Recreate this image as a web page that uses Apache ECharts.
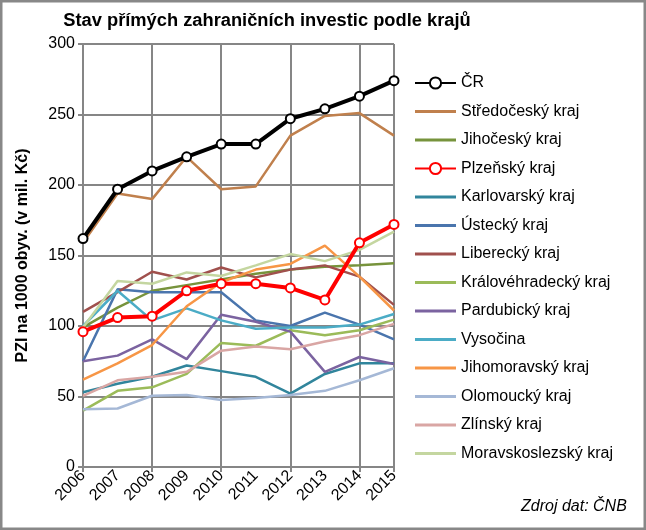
<!DOCTYPE html>
<html>
<head>
<meta charset="utf-8">
<script src="https://cdn.jsdelivr.net/npm/echarts@6/dist/echarts.min.js"></script>
<style>
html,body{margin:0;padding:0;background:#fff;}
#c{width:646px;height:530px;}
</style>
</head>
<body>
<div id="c"></div>
<script>
const years = ['2006','2007','2008','2009','2010','2011','2012','2013','2014','2015'];
const yTicks = [0, 50, 100, 150, 200, 250, 300];

const cr              = [162, 197, 210, 220, 229, 229, 247, 254, 263, 274];
const stredocesky     = [159, 194, 190, 220, 197, 199, 235, 249, 251, 235];
const jihocesky       = [99, 113, 125, 129, 133, 137, 140, 142, 143, 144.5];
const plzensky        = [96, 106, 107, 125, 130, 130, 127, 118.5, 159, 172];
const karlovarsky     = [53, 59, 64, 72, 68, 64, 52, 66, 73.5, 73.5];
const ustecky         = [75, 126, 124, 124, 124, 104, 100, 109.5, 101, 90.5];
const liberecky       = [110, 124, 138.5, 133, 141.5, 134.5, 140, 143, 135, 115];
const kralovehradecky = [40, 54, 56.5, 66, 88, 86, 97, 93.5, 97, 104.5];
const pardubicky      = [75, 79, 90.5, 76.5, 108, 103, 96, 67.5, 78, 73];
const vysocina        = [100, 125, 104, 112.5, 104, 98, 99, 99, 101, 108.5];
const jihomoravsky    = [62, 73.5, 86.5, 114, 131, 140, 144, 157, 135, 111];
const olomoucky       = [41, 41.5, 50.5, 51, 47.5, 49, 51, 54, 61.5, 70];
const zlinsky         = [50.5, 61.5, 64, 67.5, 82.5, 85.5, 83.5, 89, 93.5, 101.5];
const moravskoslezsky = [99, 132, 130, 138, 135.5, 143, 151, 146, 154, 167];

const FONT = '"Liberation Sans", Arial, sans-serif';

function plain(name, data, color) {
  return {
    name, type: 'line', data, symbol: 'none', z: 2,
    lineStyle: { color, width: 2.5 }, itemStyle: { color }
  };
}
function marked(name, data, color, z) {
  return {
    name, type: 'line', data, symbol: 'circle', symbolSize: 9, z,
    lineStyle: { color, width: 4 },
    itemStyle: { color: '#fff', borderColor: color, borderWidth: 2 }
  };
}

const series = [
  marked('ČR', cr, '#000000', 10),
  plain('Středočeský kraj', stredocesky, '#C0804D'),
  plain('Jihočeský kraj', jihocesky, '#77933C'),
  marked('Plzeňský kraj', plzensky, '#FF0000', 9),
  plain('Karlovarský kraj', karlovarsky, '#31859C'),
  plain('Ústecký kraj', ustecky, '#4A75AD'),
  plain('Liberecký kraj', liberecky, '#A0504D'),
  plain('Královéhradecký kraj', kralovehradecky, '#9BBB59'),
  plain('Pardubický kraj', pardubicky, '#7B63A0'),
  plain('Vysočina', vysocina, '#4BACC6'),
  plain('Jihomoravský kraj', jihomoravsky, '#F79646'),
  plain('Olomoucký kraj', olomoucky, '#A5B8D6'),
  plain('Zlínský kraj', zlinsky, '#D9A6A4'),
  plain('Moravskoslezský kraj', moravskoslezsky, '#C4D6A0')
];

const legendData = series.map(s => s.symbol === 'none'
  ? { name: s.name, icon: 'path://M0,0H40V3H0Z' }
  : { name: s.name });

const chart = echarts.init(document.getElementById('c'), null, { renderer: 'canvas' });
chart.setOption({
  animation: false,
  backgroundColor: '#fff',
  textStyle: { fontFamily: FONT },
  title: {
    text: 'Stav přímých zahraničních investic podle krajů',
    left: 262, top: 7, textAlign: 'center',
    textStyle: { fontFamily: FONT, fontSize: 18.3, fontWeight: 'bold', color: '#000' }
  },
  grid: { left: 83, right: 252, top: 44, bottom: 63, containLabel: false },
  legend: {
    orient: 'vertical', left: 409, top: 70,
    itemWidth: 41, itemHeight: 14, itemGap: 12.5,
    textStyle: { fontFamily: FONT, fontSize: 16, color: '#000' },
    data: legendData
  },
  xAxis: {
    type: 'category', data: years, boundaryGap: false,
    axisLine: { lineStyle: { color: '#868686', width: 2 } },
    axisTick: { interval: 1, length: 5, lineStyle: { color: '#868686', width: 2 } },
    splitLine: { show: true, interval: 1, lineStyle: { color: '#868686', width: 2 } },
    axisLabel: { interval: 0, rotate: 45, margin: 6, fontFamily: FONT, fontSize: 16, color: '#000' }
  },
  yAxis: {
    type: 'value', min: yTicks[0], max: yTicks[yTicks.length - 1], interval: 50,
    name: 'PZI na 1000 obyv. (v mil. Kč)', nameLocation: 'middle', nameGap: 52,
    nameTextStyle: { fontFamily: FONT, fontSize: 16, fontWeight: 'bold', color: '#000' },
    axisLine: { show: true, lineStyle: { color: '#868686', width: 2 } },
    axisTick: { show: true, length: 5, lineStyle: { color: '#868686', width: 2 } },
    splitLine: { show: true, lineStyle: { color: '#868686', width: 2 } },
    axisLabel: { margin: 8, fontFamily: FONT, fontSize: 16, color: '#000' }
  },
  graphic: [
    { type: 'rect', shape: { x: 1, y: 1, width: 644, height: 528 }, style: { fill: 'none', stroke: '#888', lineWidth: 3 }, silent: true },
    { type: 'text', left: 521, top: 499, style: { text: 'Zdroj dat: ČNB', font: 'italic 16px ' + FONT, fill: '#000' } }
  ],
  series
});
</script>
</body>
</html>
